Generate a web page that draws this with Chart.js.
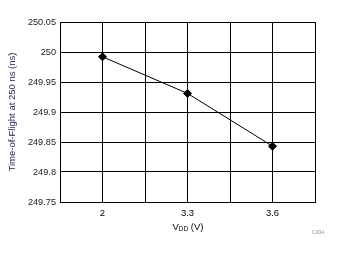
<!DOCTYPE html>
<html>
<head>
<meta charset="utf-8">
<script src="https://cdn.jsdelivr.net/npm/chart.js@4"></script>
<style>
  html, body { margin: 0; padding: 0; background: #fff; }
  #wrap { width: 343px; height: 254px; }
</style>
</head>
<body>
<div id="wrap"><canvas id="tofChart" width="343" height="254"></canvas></div>
<script>
// data
const vddLabels = ["2", "3.3", "3.6"];
const tofValues = [249.992, 249.931, 249.843];
const yTicks = [249.75, 249.8, 249.85, 249.9, 249.95, 250, 250.05];

const FONT = "'Liberation Sans', Arial, sans-serif";

// x title with subscript + figure id, drawn after the chart
const extraText = {
  id: "extraText",
  afterDraw(chart) {
    const ctx = chart.ctx;
    const area = chart.chartArea;
    const cx = (area.left + area.right) / 2 + 0.5;
    const y = 227;
    ctx.save();
    ctx.fillStyle = "#000";
    ctx.textBaseline = "middle";
    ctx.textAlign = "left";
    const big = "9.5px " + FONT;
    const small = "6.5px " + FONT;
    ctx.font = big;
    const wV = ctx.measureText("V").width;
    const wRest = ctx.measureText(" (V)").width;
    ctx.font = small;
    const wSub = ctx.measureText("DD").width;
    let x = cx - (wV + wSub + wRest) / 2;
    ctx.font = big;
    ctx.fillText("V", x, y);
    x += wV;
    ctx.font = small;
    ctx.fillText("DD", x, y + 2);
    x += wSub;
    ctx.font = big;
    ctx.fillText(" (V)", x, y);

    ctx.font = "5px " + FONT;
    ctx.fillStyle = "#8a8aa0";
    ctx.textAlign = "center";
    ctx.fillText("C004", 318, 233);
    ctx.restore();
  }
};

new Chart(document.getElementById("tofChart"), {
  type: "line",
  data: {
    datasets: [{
      data: tofValues.map((v, i) => ({ x: i, y: v })),
      borderColor: "#000",
      borderWidth: 1,
      backgroundColor: "#000",
      pointStyle: "rectRot",
      pointRadius: 4,
      pointBorderWidth: 1,
      tension: 0
    }]
  },
  options: {
    responsive: false,
    animation: false,
    layout: { padding: { left: 0, top: 22, right: 28, bottom: 0 } },
    plugins: { legend: { display: false }, tooltip: { enabled: false } },
    scales: {
      x: {
        type: "linear",
        min: -0.5,
        max: 2.5,
        afterBuildTicks: (scale) => {
          scale.ticks = [-0.5, 0, 0.5, 1, 1.5, 2, 2.5].map(v => ({ value: v }));
        },
        afterFit: (scale) => { scale.height = 52; },
        grid: { color: "#000", lineWidth: 1, drawTicks: false },
        border: { color: "#000", width: 1 },
        ticks: {
          padding: 6,
          color: "#000",
          font: { family: FONT, size: 9.5 },
          maxRotation: 0,
          autoSkip: false,
          callback: (v) => Number.isInteger(v) ? vddLabels[v] : ""
        }
      },
      y: {
        min: 249.75,
        max: 250.05,
        afterBuildTicks: (scale) => {
          scale.ticks = yTicks.map(v => ({ value: v }));
        },
        afterFit: (scale) => { scale.width = 60; },
        grid: { color: "#000", lineWidth: 1, drawTicks: false },
        border: { color: "#000", width: 1 },
        ticks: {
          padding: 4,
          color: "#222",
          font: { family: FONT, size: 9.2 },
          callback: (v) => String(parseFloat(v.toFixed(2)))
        },
        title: {
          display: true,
          text: "Time-of-Flight at 250 ns (ns)",
          color: "#261a4a",
          font: { family: FONT, size: 9.5 },
          padding: { top: 7, bottom: 0 }
        }
      }
    }
  },
  plugins: [extraText]
});
</script>
</body>
</html>
